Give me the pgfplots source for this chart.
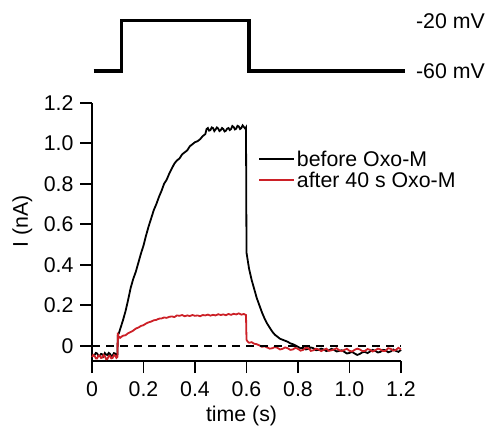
\documentclass[border=0pt]{standalone}
\usepackage{pgfplots}
\pgfplotsset{compat=1.18}
\usepackage{fontspec}
\setmainfont{Liberation Sans}
\definecolor{tracered}{RGB}{204,32,39}
\begin{document}
\begin{tikzpicture}[x=1bp,y=1bp]
\path[use as bounding box] (0,0) rectangle (488,429);
% voltage protocol
\begin{axis}[
  at={(92bp,358bp)}, anchor=south west,
  scale only axis, width=309bp, height=50.3bp,
  xmin=0, xmax=1.2, ymin=-60, ymax=-20,
  hide axis, clip=false,
  font=\fontsize{21.3bp}{25bp}\selectfont]
\addplot[black, line width=3.2bp] coordinates {(0.006,-60) (0.113,-60) (0.113,-20) (0.61,-20) (0.61,-60) (1.215,-60)};
\node[anchor=west, inner sep=0] at (axis cs:1.258,-20) {-20 mV};
\node[anchor=west, inner sep=0] at (axis cs:1.258,-60) {-60 mV};
\end{axis}
% main current axis
\begin{axis}[
  at={(92bp,68bp)}, anchor=south west,
  scale only axis, width=309bp, height=258.3bp,
  xmin=0, xmax=1.2, ymin=-0.075, ymax=1.2,
  axis x line*=bottom, axis y line*=left,
  axis line style={line width=1.8bp},
  tick align=outside, major tick length=12bp,
  tick style={line width=1.8bp, black},
  xtick={0,0.2,0.4,0.6,0.8,1.0,1.2},
  xticklabels={0,0.2,0.4,0.6,0.8,1.0,1.2},
  ytick={0,0.2,0.4,0.6,0.8,1.0,1.2},
  yticklabels={0,0.2,0.4,0.6,0.8,1.0,1.2},
  font=\fontsize{21.3bp}{25bp}\selectfont,
  tick label style={font=\fontsize{21.3bp}{25bp}\selectfont},
  xticklabel style={yshift=-5bp},
  yticklabel style={xshift=-3bp},
  /pgf/number format/assume math mode=true,
  xlabel={time (s)}, ylabel={I (nA)},
  xlabel style={at={(axis description cs:0.484,-0.212)}, anchor=center},
  ylabel style={at={(axis description cs:-0.225,0.542)}, anchor=center},
  legend style={at={(axis description cs:0.537,0.741)}, anchor=west, draw=none, fill=none,
    font=\fontsize{21.3bp}{25bp}\selectfont, inner xsep=0pt, inner ysep=0pt,
    row sep=0pt},
  legend cell align=left,
  legend image code/.code={\draw[#1, line width=1.8bp] (0bp,0bp) -- (35bp,0bp);},
  clip=false]
\addplot[black, line width=1.8bp] coordinates {
(0.000,-0.040) (0.005,-0.048) (0.010,-0.045) (0.015,-0.035) (0.020,-0.038) (0.025,-0.050) (0.030,-0.050)
(0.035,-0.040) (0.040,-0.042) (0.045,-0.052) (0.050,-0.036) (0.055,-0.044) (0.060,-0.045) (0.065,-0.035)
(0.070,-0.040) (0.075,-0.050) (0.080,-0.048) (0.085,-0.036) (0.090,-0.038) (0.095,-0.047) (0.099,-0.042)
(0.100,0.050) (0.105,0.065) (0.110,0.085) (0.120,0.125) (0.130,0.170) (0.140,0.225) (0.150,0.285)
(0.160,0.330) (0.170,0.365) (0.180,0.410) (0.190,0.455) (0.200,0.495) (0.210,0.545) (0.220,0.590)
(0.230,0.630) (0.240,0.670) (0.250,0.700) (0.260,0.735) (0.270,0.765) (0.280,0.800) (0.290,0.820)
(0.300,0.850) (0.310,0.875) (0.320,0.900) (0.330,0.915) (0.340,0.925) (0.350,0.945) (0.360,0.955)
(0.370,0.965) (0.380,0.985) (0.390,0.995) (0.400,1.005) (0.410,1.010) (0.420,1.020) (0.430,1.035)
(0.440,1.045) (0.445,1.070) (0.450,1.075) (0.455,1.062) (0.460,1.065) (0.465,1.078) (0.470,1.075)
(0.475,1.060) (0.480,1.068) (0.485,1.078) (0.490,1.072) (0.495,1.060) (0.500,1.065) (0.505,1.075)
(0.510,1.070) (0.515,1.058) (0.520,1.062) (0.525,1.072) (0.530,1.075) (0.535,1.065) (0.540,1.070)
(0.545,1.085) (0.550,1.080) (0.555,1.068) (0.560,1.072) (0.565,1.086) (0.570,1.083) (0.575,1.070)
(0.580,1.075) (0.585,1.088) (0.590,1.080) (0.595,1.072) (0.598,1.078)
(0.600,0.460) (0.605,0.420) (0.610,0.380) (0.620,0.325) (0.630,0.280) (0.640,0.235) (0.650,0.200)
(0.660,0.165) (0.670,0.135) (0.680,0.110) (0.690,0.090) (0.700,0.070) (0.710,0.055) (0.720,0.045)
(0.730,0.035) (0.740,0.030) (0.750,0.025) (0.760,0.020) (0.770,0.012) (0.780,0.008) (0.790,0.002)
(0.800,-0.005) (0.810,-0.012) (0.820,-0.010) (0.830,-0.018) (0.840,-0.015) (0.850,-0.008) (0.860,-0.012)
(0.870,-0.022) (0.880,-0.020) (0.890,-0.014) (0.900,-0.018) (0.910,-0.026) (0.920,-0.022) (0.930,-0.015)
(0.940,-0.020) (0.950,-0.028) (0.960,-0.025) (0.970,-0.022) (0.980,-0.030) (0.990,-0.038) (1.000,-0.035)
(1.010,-0.030) (1.020,-0.038) (1.030,-0.045) (1.040,-0.040) (1.050,-0.032) (1.060,-0.030) (1.070,-0.036)
(1.080,-0.028) (1.090,-0.020) (1.100,-0.025) (1.110,-0.033) (1.120,-0.030) (1.130,-0.020) (1.140,-0.022)
(1.150,-0.032) (1.160,-0.028) (1.170,-0.018) (1.180,-0.025) (1.190,-0.030) (1.200,-0.020)
};
\addlegendentry{before Oxo-M}
\addplot[tracered, line width=1.8bp] coordinates {
(0.000,-0.055) (0.005,-0.045) (0.010,-0.050) (0.015,-0.062) (0.020,-0.062) (0.025,-0.048) (0.030,-0.048)
(0.035,-0.060) (0.040,-0.058) (0.045,-0.045) (0.050,-0.052) (0.055,-0.066) (0.060,-0.065) (0.065,-0.050)
(0.070,-0.050) (0.075,-0.062) (0.080,-0.060) (0.085,-0.046) (0.090,-0.048) (0.095,-0.060) (0.099,-0.055)
(0.100,0.065) (0.102,0.035) (0.105,0.045) (0.110,0.040) (0.120,0.050) (0.130,0.052) (0.140,0.062)
(0.150,0.068) (0.160,0.075) (0.170,0.085) (0.180,0.090) (0.190,0.098) (0.200,0.102) (0.210,0.110)
(0.220,0.116) (0.230,0.120) (0.240,0.126) (0.250,0.128) (0.260,0.134) (0.270,0.135) (0.280,0.140)
(0.290,0.138) (0.300,0.143) (0.310,0.145) (0.320,0.142) (0.330,0.150) (0.340,0.148) (0.350,0.152)
(0.360,0.146) (0.370,0.150) (0.380,0.147) (0.390,0.152) (0.400,0.148) (0.410,0.150) (0.420,0.146)
(0.430,0.152) (0.440,0.150) (0.450,0.154) (0.460,0.149) (0.470,0.153) (0.480,0.150) (0.490,0.156)
(0.500,0.152) (0.510,0.155) (0.520,0.151) (0.530,0.157) (0.540,0.153) (0.550,0.158) (0.560,0.155)
(0.570,0.160) (0.580,0.154) (0.590,0.157) (0.598,0.152)
(0.600,0.030) (0.605,0.020) (0.610,0.015) (0.620,0.018) (0.630,0.010) (0.640,0.008) (0.650,0.002)
(0.660,-0.005) (0.670,-0.002) (0.680,-0.008) (0.690,-0.014) (0.700,-0.012) (0.710,-0.006) (0.720,-0.010)
(0.730,-0.018) (0.740,-0.015) (0.750,-0.008) (0.760,-0.012) (0.770,-0.020) (0.780,-0.018) (0.790,-0.010)
(0.800,-0.015) (0.810,-0.024) (0.820,-0.020) (0.830,-0.010) (0.840,-0.012) (0.850,-0.025) (0.860,-0.022)
(0.870,-0.014) (0.880,-0.018) (0.890,-0.026) (0.900,-0.020) (0.910,-0.014) (0.920,-0.025) (0.930,-0.022)
(0.940,-0.018) (0.950,-0.012) (0.960,-0.022) (0.970,-0.026) (0.980,-0.020) (0.990,-0.015) (1.000,-0.025)
(1.010,-0.028) (1.020,-0.020) (1.030,-0.014) (1.040,-0.018) (1.050,-0.026) (1.060,-0.025) (1.070,-0.016)
(1.080,-0.020) (1.090,-0.028) (1.100,-0.022) (1.110,-0.014) (1.120,-0.018) (1.130,-0.026) (1.140,-0.025)
(1.150,-0.012) (1.160,-0.015) (1.170,-0.024) (1.180,-0.020) (1.190,-0.010) (1.200,-0.018)
};
\addlegendentry{after 40 s Oxo-M}
\addplot[black, line width=1.8bp, dash pattern=on 8bp off 6bp, forget plot] coordinates {(0,0) (1.2,0)};
\end{axis}
\end{tikzpicture}
\end{document}
